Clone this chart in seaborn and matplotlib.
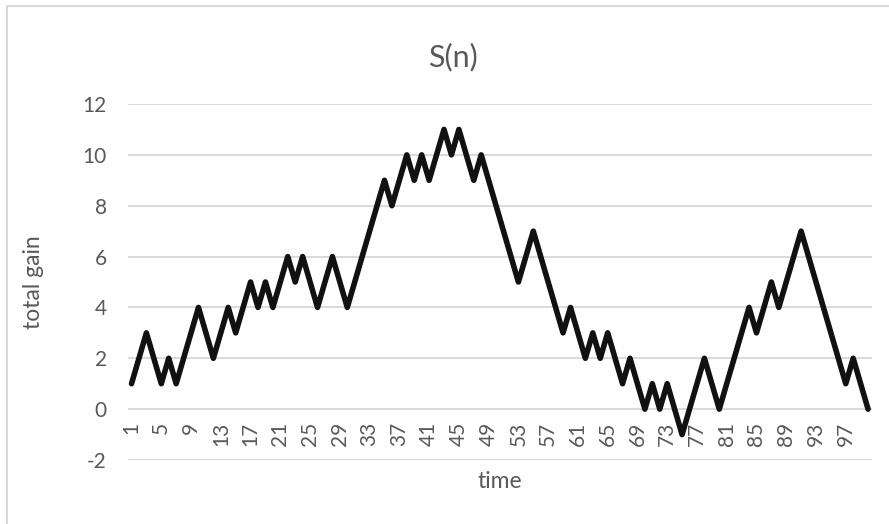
import matplotlib
matplotlib.use("Agg")
import matplotlib.pyplot as plt
import matplotlib.patches as patches
import seaborn as sns
import pandas as pd

tiempo = list(range(1, 101))
ganancia = [1, 2, 3, 2, 1, 2, 1, 2, 3, 4, 3, 2, 3, 4, 3, 4, 5, 4, 5, 4, 5, 6, 5, 6,
            5, 4, 5, 6, 5, 4, 5, 6, 7, 8, 9, 8, 9, 10, 9, 10, 9, 10, 11, 10, 11, 10, 9, 10,
            9, 8, 7, 6, 5, 6, 7, 6, 5, 4, 3, 4, 3, 2, 3, 2, 3, 2, 1, 2, 1, 0, 1, 0,
            1, 0, -1, 0, 1, 2, 1, 0, 1, 2, 3, 4, 3, 4, 5, 4, 5, 6, 7, 6, 5, 4, 3, 2, 1, 2, 1, 0]
ticks_x = list(range(1, 101, 4))
ticks_y = list(range(-2, 13, 2))

df = pd.DataFrame({"time": tiempo, "total gain": ganancia})

sns.set_theme(style="white")
plt.rcParams["font.family"] = ["Lato", "DejaVu Sans"]
plt.rcParams["axes.unicode_minus"] = False
gris = "#595959"

fig = plt.figure(figsize=(8.89, 5.24), dpi=100)
ax = fig.add_axes([127.8 / 889, 1 - 460 / 524, 744 / 889, 356 / 524])

sns.lineplot(data=df, x="time", y="total gain", ax=ax, color="#111111",
             linewidth=4.0, solid_joinstyle="round", solid_capstyle="round")

# el eje x cruza en 0 (primero, porque reinicia los ticks)
for s in ax.spines.values():
    s.set_visible(False)
ax.spines["bottom"].set_position(("data", 0))

ax.set_xlim(0.5, 100.5)
ax.set_ylim(-2, 12)
ax.set_yticks(ticks_y)
ax.set_xticks(ticks_x)
ax.set_xticklabels([str(t) for t in ticks_x], rotation=90, va="top")
ax.grid(axis="y", color="#d9d9d9", linewidth=1.4)
ax.set_axisbelow(True)
ax.tick_params(axis="y", length=0, pad=15, labelsize=15, labelcolor=gris)
ax.tick_params(axis="x", length=0, pad=9, labelsize=15, labelcolor=gris)

ax.set_xlabel("time", fontsize=16.5, color=gris)
ax.set_ylabel("total gain", fontsize=16.5, color=gris)
ax.xaxis.set_label_coords(0.5, -0.03)
ax.yaxis.set_label_coords(-0.112, 0.5)

fig.text(453 / 889, 1 - 57 / 524, "S(n)", fontsize=22, color=gris,
         ha="center", va="center")

# borde del grafico estilo Excel
fig.patches.append(patches.Rectangle((6.5 / 889, -0.1), 1.0, 1.1 - 6.5 / 524,
                                     transform=fig.transFigure, fill=False,
                                     edgecolor="#d9d9d9", linewidth=1.5))

fig.savefig("out.png", dpi=100, facecolor="white")
